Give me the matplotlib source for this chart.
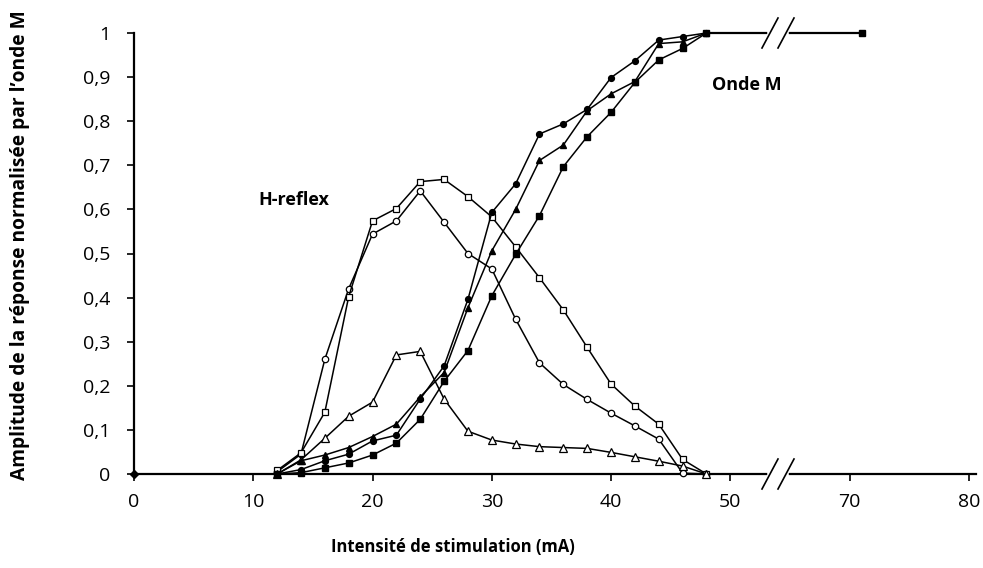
import numpy as np
import matplotlib
matplotlib.use("Agg")
import matplotlib.pyplot as plt
from matplotlib.ticker import FixedLocator, FuncFormatter

plt.rcParams['font.family'] = ['Open Sans', 'DejaVu Sans']

# ---- data ----
intensity = [12, 14, 16, 18, 20, 22, 24, 26, 28, 30, 32, 34, 36, 38, 40, 42, 44, 46, 48]

h_circle = [0.005, 0.045, 0.26, 0.42, 0.544, 0.574, 0.642, 0.571, 0.50, 0.465, 0.351,
            0.252, 0.203, 0.169, 0.138, 0.109, 0.079, 0.002, 0.0]
h_square = [0.008, 0.048, 0.14, 0.402, 0.574, 0.602, 0.663, 0.668, 0.629, 0.583, 0.515,
            0.445, 0.372, 0.287, 0.204, 0.154, 0.113, 0.033, 0.0]
h_triangle = [0.0, 0.032, 0.081, 0.131, 0.163, 0.27, 0.278, 0.17, 0.097, 0.077, 0.068,
              0.062, 0.060, 0.058, 0.049, 0.039, 0.029, 0.018, 0.0]

m_circle = [0.0, 0.01, 0.03, 0.045, 0.075, 0.088, 0.17, 0.245, 0.396, 0.593, 0.658,
            0.771, 0.794, 0.827, 0.899, 0.937, 0.984, 0.992, 1.0]
m_triangle = [0.0, 0.03, 0.043, 0.06, 0.085, 0.113, 0.175, 0.23, 0.377, 0.506, 0.60,
              0.711, 0.746, 0.824, 0.862, 0.89, 0.976, 0.98, 1.0]
m_square = [0.0, 0.003, 0.014, 0.025, 0.043, 0.07, 0.124, 0.21, 0.28, 0.404, 0.498,
            0.586, 0.697, 0.765, 0.82, 0.888, 0.939, 0.965, 1.0]
m_tail_x = [48, 71]
m_tail_y = [1.0, 1.0]
origin_x = [0, 12]
origin_y = [0.0, 0.0]

xtick_vals = [0, 10, 20, 30, 40, 50, 70, 80]
ytick_vals = [0, 0.1, 0.2, 0.3, 0.4, 0.5, 0.6, 0.7, 0.8, 0.9, 1.0]


# broken axis: 50..70 compressed
def fwd(x):
    x = np.asarray(x, dtype=float)
    return np.where(x <= 50, x, np.where(x >= 70, x - 10, 50 + (x - 50) / 2))


def inv(d):
    d = np.asarray(d, dtype=float)
    return np.where(d <= 50, d, np.where(d >= 60, d + 10, 50 + (d - 50) * 2))


W, H = 983, 568
fig = plt.figure(figsize=(W / 100, H / 100), dpi=100)
ax = fig.add_axes([134 / W, (H - 474) / H, (976 - 134) / W, (474 - 33) / H])
ax.set_xscale('function', functions=(fwd, inv))
ax.set_xlim(0, 80.6)
ax.set_ylim(0, 1.0)

lw = 1.1
ms = 4.6
common = dict(color='black', lw=lw, clip_on=False, zorder=3)

ax.plot(origin_x, origin_y, marker='D', ms=4, markevery=[0], mfc='black', mec='black', **common)
ax.plot(intensity, h_circle, marker='o', ms=ms, mfc='white', mec='black', mew=0.9, **common)
ax.plot(intensity, h_square, marker='s', ms=ms, mfc='white', mec='black', mew=0.9, **common)
ax.plot(intensity, h_triangle, marker='^', ms=ms + 0.6, mfc='white', mec='black', mew=0.9, **common)
ax.plot(intensity, m_circle, marker='o', ms=ms - 0.4, mfc='black', mec='black', **common)
ax.plot(intensity, m_triangle, marker='^', ms=ms, mfc='black', mec='black', **common)
ax.plot(intensity, m_square, marker='s', ms=ms - 0.6, mfc='black', mec='black', **common)
ax.plot(m_tail_x, m_tail_y, marker='s', ms=ms - 0.6, markevery=[1], color='black', lw=1.6,
        clip_on=False, zorder=3)

# spines
for s in ['top', 'right']:
    ax.spines[s].set_visible(False)
for s in ['left', 'bottom']:
    ax.spines[s].set_linewidth(1.6)
    ax.spines[s].set_color('black')

ax.xaxis.set_major_locator(FixedLocator(xtick_vals))
ax.xaxis.set_minor_locator(FixedLocator([]))
ax.yaxis.set_major_locator(FixedLocator(ytick_vals))


def yfmt(v, pos):
    if abs(v) < 1e-9:
        return '0'
    if abs(v - 1) < 1e-9:
        return '1'
    return ('%.1f' % v).replace('.', ',')


ax.yaxis.set_major_formatter(FuncFormatter(yfmt))
ax.xaxis.set_major_formatter(FuncFormatter(lambda v, p: '%d' % round(v)))
ax.tick_params(axis='both', which='major', direction='out', length=5, width=1.2,
               labelsize=14, colors='black')
ax.tick_params(axis='y', pad=12)
ax.tick_params(axis='x', pad=9)

fig.text(453, H - 547, 'Intensité de stimulation (mA)', transform=None, fontsize=12,
         fontweight='bold', ha='center', va='center')
fig.text(20, H - 245, 'Amplitude de la réponse normalisée par l’onde M', transform=None,
         fontsize=13.8, fontweight='bold', ha='center', va='center', rotation=90)

fig.text(294, H - 200, 'H-reflex', transform=None, fontsize=13, fontweight='bold',
         ha='center', va='center')
fig.text(747, H - 85, 'Onde M', transform=None, fontsize=13, fontweight='bold',
         ha='center', va='center')

# break marks (figure pixel coords, origin bottom-left)
for ytop in [474, 33]:
    yc = H - ytop
    ax.plot([770, 786], [yc, yc], color='white', lw=4, transform=None, clip_on=False, zorder=5)
    for xc in [770, 786]:
        ax.plot([xc - 8, xc + 8], [yc - 15, yc + 15], color='black', lw=1.2,
                transform=None, clip_on=False, zorder=6)

fig.savefig('out.png', dpi=100)
